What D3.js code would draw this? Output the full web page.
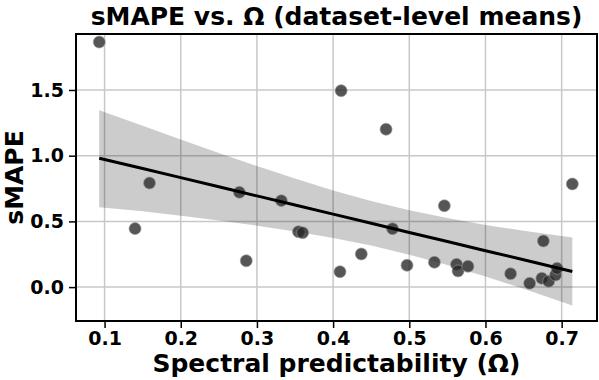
<!DOCTYPE html>
<html>
<head>
<meta charset="utf-8">
<script src="https://cdn.jsdelivr.net/npm/d3@7"></script>
<style>
  body { margin: 0; background: #fff; }
  text { font-family: "DejaVu Sans", sans-serif; font-weight: bold; }
</style>
</head>
<body>
<svg id="chart" width="599" height="380"></svg>
<script>
// dataset-level means
var omega = [0.093, 0.159, 0.140, 0.277, 0.286, 0.332, 0.3545, 0.360, 0.409, 0.4105,
             0.437, 0.4695, 0.478, 0.497, 0.533, 0.546, 0.562, 0.564, 0.577, 0.633,
             0.658, 0.674, 0.676, 0.683, 0.692, 0.694, 0.714];
var smape = [1.865, 0.792, 0.445, 0.721, 0.200, 0.658, 0.422, 0.414, 0.117, 1.495,
             0.252, 1.201, 0.444, 0.166, 0.189, 0.619, 0.173, 0.123, 0.158, 0.102,
             0.029, 0.067, 0.351, 0.044, 0.092, 0.143, 0.785];

// regression fit + 95% band
var fitX   = [0.093, 0.15, 0.2, 0.25, 0.3, 0.35, 0.4, 0.45, 0.5, 0.55, 0.6, 0.65, 0.714];
var fitY   = [0.981, 0.902, 0.833, 0.763, 0.694, 0.625, 0.555, 0.486, 0.416, 0.347, 0.277, 0.208, 0.119];
var bandHi = [1.345, 1.227, 1.123, 1.020, 0.921, 0.826, 0.736, 0.656, 0.585, 0.525, 0.473, 0.429, 0.378];
var bandLo = [0.607, 0.577, 0.543, 0.506, 0.467, 0.424, 0.374, 0.316, 0.247, 0.169, 0.081, -0.013, -0.140];

var xTicks = [0.1, 0.2, 0.3, 0.4, 0.5, 0.6, 0.7];
var yTicks = [0.0, 0.5, 1.0, 1.5];

var svg = d3.select("#chart"),
    margin = {top: 34, right: 2, bottom: 59, left: 76},
    width = +svg.attr("width") - margin.left - margin.right,
    height = +svg.attr("height") - margin.top - margin.bottom,
    g = svg.append("g").attr("transform", "translate(" + margin.left + "," + margin.top + ")");

var x = d3.scaleLinear().domain([0.0625, 0.7464]).range([0, width]),
    y = d3.scaleLinear().domain([-0.258, 1.926]).range([height, 0]);

// grid
g.append("g").selectAll("line").data(xTicks).enter().append("line")
  .attr("x1", function(d) { return x(d); }).attr("x2", function(d) { return x(d); })
  .attr("y1", 0).attr("y2", height)
  .attr("stroke", "#c8c8c8").attr("stroke-width", 1.5);
g.append("g").selectAll("line").data(yTicks).enter().append("line")
  .attr("y1", function(d) { return y(d); }).attr("y2", function(d) { return y(d); })
  .attr("x1", 0).attr("x2", width)
  .attr("stroke", "#c8c8c8").attr("stroke-width", 1.5);

// confidence band
var area = d3.area()
  .x(function(d, i) { return x(fitX[i]); })
  .y0(function(d, i) { return y(bandLo[i]); })
  .y1(function(d, i) { return y(bandHi[i]); });
g.append("path").datum(fitX).attr("d", area)
  .attr("fill", "#000").attr("fill-opacity", 0.2);

// points
g.append("g").selectAll("circle").data(omega).enter().append("circle")
  .attr("cx", function(d) { return x(d); })
  .attr("cy", function(d, i) { return y(smape[i]); })
  .attr("r", 6)
  .attr("fill", "#262626").attr("fill-opacity", 0.78)
  .attr("stroke", "#999").attr("stroke-width", 0.8).attr("stroke-opacity", 0.8);

// fit line
var line = d3.line()
  .x(function(d, i) { return x(fitX[i]); })
  .y(function(d, i) { return y(fitY[i]); });
g.append("path").datum(fitX).attr("d", line)
  .attr("fill", "none").attr("stroke", "#000").attr("stroke-width", 3);

// axes
var xAxis = g.append("g").attr("transform", "translate(0," + height + ")")
  .call(d3.axisBottom(x).tickValues(xTicks).tickFormat(d3.format(".1f")).tickSize(7).tickPadding(4));
var yAxis = g.append("g")
  .call(d3.axisLeft(y).tickValues(yTicks).tickFormat(d3.format(".1f")).tickSize(7).tickPadding(5));
[xAxis, yAxis].forEach(function(a) {
  a.select(".domain").remove();
  a.selectAll(".tick line").attr("stroke", "#000").attr("stroke-width", 1.5);
  a.selectAll(".tick text").attr("fill", "#000").style("font-size", "19px")
    .style("font-family", "DejaVu Sans").style("font-weight", "bold");
});

// frame
g.append("rect").attr("width", width).attr("height", height)
  .attr("fill", "none").attr("stroke", "#000").attr("stroke-width", 2);

// labels
svg.append("text").attr("x", margin.left + width / 2).attr("y", 25)
  .attr("text-anchor", "middle").style("font-size", "25px")
  .text("sMAPE vs. Ω (dataset-level means)");
svg.append("text").attr("x", margin.left + width / 2).attr("y", 372)
  .attr("text-anchor", "middle").style("font-size", "25px")
  .text("Spectral predictability (Ω)");
svg.append("text")
  .attr("transform", "translate(23," + (margin.top + height / 2) + ") rotate(-90)")
  .attr("text-anchor", "middle").style("font-size", "25px")
  .text("sMAPE");
</script>
</body>
</html>
